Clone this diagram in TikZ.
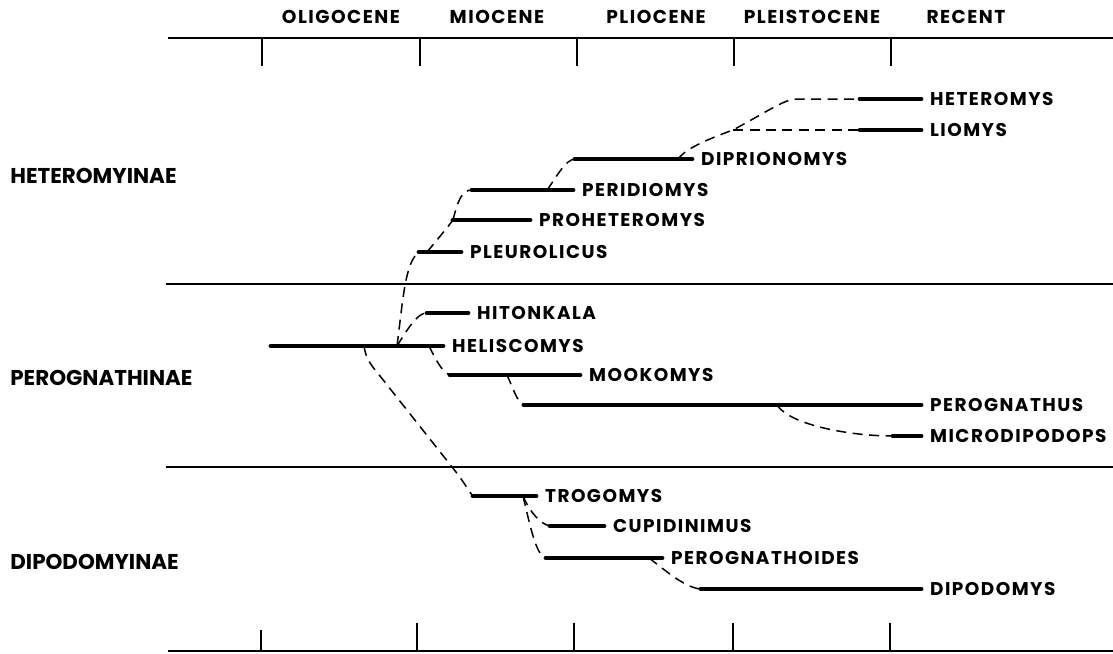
\documentclass[tikz,border=0pt]{standalone}
\usepackage{fontspec}
\setmainfont{Poppins}[LetterSpace=8]

\begin{document}
\begin{tikzpicture}[x=0.02cm, y=-0.02cm,
  epoch/.style={inner sep=0pt, font=\bfseries\fontsize{10.6}{12}\selectfont},
  subfam/.style={anchor=west, inner sep=0pt, font=\bfseries\fontsize{12.2}{14}\selectfont\addfontfeature{LetterSpace=0}},
  taxon/.style={anchor=west, inner xsep=5pt, inner ysep=0pt, font=\bfseries\fontsize{10.5}{12}\selectfont},
  rule/.style={line width=0.9pt},
  bar/.style={line width=2.8pt, line cap=round},
  link/.style={line width=0.85pt, dash pattern=on 0.2cm off 0.13cm}]

  \useasboundingbox (0,0) rectangle (1113,653);

  % time scale at the top
  \draw[rule] (168,38) -- (1113,38);
  \foreach \x in {262,420,577,734,891}
    \draw[rule] (\x,38) -- (\x,66);
  \node[epoch] (oligocene)   at (341,17) {OLIGOCENE};
  \node[epoch] (miocene)     at (497,17) {MIOCENE};
  \node[epoch] (pliocene)    at (656,17) {PLIOCENE};
  \node[epoch] (pleistocene) at (812,17) {PLEISTOCENE};
  \node[epoch] (recent)      at (966,17) {RECENT};

  % time scale at the bottom
  \draw[rule] (168,651) -- (1113,651);
  \draw[rule] (261,651) -- (261,630);
  \foreach \x in {417,574,733,890}
    \draw[rule] (\x,651) -- (\x,623);

  % subfamily bands
  \draw[rule] (166,284) -- (1113,284);
  \draw[rule] (166,467) -- (1113,467);
  \node[subfam] (heteromyinae)  at (10,176) {HETEROMYINAE};
  \node[subfam] (perognathinae) at (10,378) {PEROGNATHINAE};
  \node[subfam] (dipodomyinae)  at (10,562) {DIPODOMYINAE};

  % genera: start of each range
  \coordinate (s-heteromys)      at (860,99);
  \coordinate (s-liomys)         at (860,130);
  \coordinate (s-diprionomys)    at (575,159);
  \coordinate (s-peridiomys)     at (472,190);
  \coordinate (s-proheteromys)   at (453,220);
  \coordinate (s-pleurolicus)    at (419,252);
  \coordinate (s-hitonkala)      at (427,313);
  \coordinate (s-heliscomys)     at (271,346);
  \coordinate (s-mookomys)       at (450,375);
  \coordinate (s-perognathus)    at (524,405);
  \coordinate (s-microdipodops)  at (893,436);
  \coordinate (s-trogomys)       at (473,496);
  \coordinate (s-cupidinimus)    at (550,526);
  \coordinate (s-perognathoides) at (546,558);
  \coordinate (s-dipodomys)      at (701,589);

  \node[taxon] (heteromys)      at (921,99)  {HETEROMYS};
  \node[taxon] (liomys)         at (921,130) {LIOMYS};
  \node[taxon] (diprionomys)    at (692,159) {DIPRIONOMYS};
  \node[taxon] (peridiomys)     at (573,190) {PERIDIOMYS};
  \node[taxon] (proheteromys)   at (530,220) {PROHETEROMYS};
  \node[taxon] (pleurolicus)    at (461,252) {PLEUROLICUS};
  \node[taxon] (hitonkala)      at (468,313) {HITONKALA};
  \node[taxon] (heliscomys)     at (443,346) {HELISCOMYS};
  \node[taxon] (mookomys)       at (580,375) {MOOKOMYS};
  \node[taxon] (perognathus)    at (921,405) {PEROGNATHUS};
  \node[taxon] (microdipodops)  at (921,436) {MICRODIPODOPS};
  \node[taxon] (trogomys)       at (536,496) {TROGOMYS};
  \node[taxon] (cupidinimus)    at (604,526) {CUPIDINIMUS};
  \node[taxon] (perognathoides) at (662,558) {PEROGNATHOIDES};
  \node[taxon] (dipodomys)      at (921,589) {DIPODOMYS};

  \foreach \g in {heteromys,liomys,diprionomys,peridiomys,proheteromys,
      pleurolicus,hitonkala,heliscomys,mookomys,perognathus,microdipodops,
      trogomys,cupidinimus,perognathoides,dipodomys}
    \draw[bar] (s-\g) -- (\g.west);

  % branch points
  \coordinate (heli-a) at (364,346);
  \coordinate (heli-b) at (397,346);
  \coordinate (heli-c) at (429,346);
  \coordinate (pleu-a) at (427,252);
  \coordinate (peri-a) at (547,190);
  \coordinate (dipr-a) at (678,159);
  \coordinate (hete-a) at (733,130);
  \coordinate (hete-b) at (797,99);
  \coordinate (mook-a) at (507,375);
  \coordinate (pero-a) at (777,405);
  \coordinate (trog-a) at (523,496);
  \coordinate (pnoi-a) at (649,558);

  % heteromyine line
  \draw[link] (heli-b) .. controls (403,300) and (405,262) .. (s-pleurolicus);
  \draw[link] (pleu-a) .. controls (437,240) and (447,228) .. (s-proheteromys);
  \draw[link] (s-proheteromys) .. controls (458,200) and (462,190) .. (s-peridiomys);
  \draw[link] (peri-a) .. controls (558,175) and (565,160) .. (s-diprionomys);
  \draw[link] (dipr-a) .. controls (685,150) and (700,142) .. (hete-a)
    .. controls (770,110) and (785,99) .. (hete-b) -- (s-heteromys);
  \draw[link] (hete-a) -- (s-liomys);

  % perognathine line
  \draw[link] (heli-b) .. controls (410,325) and (418,313) .. (s-hitonkala);
  \draw[link] (heli-c) .. controls (436,360) and (442,372) .. (s-mookomys);
  \draw[link] (mook-a) .. controls (513,388) and (518,404) .. (s-perognathus);
  \draw[link] (pero-a) .. controls (790,425) and (850,436) .. (s-microdipodops);

  % dipodomyine line
  \draw[link] (heli-a) .. controls (366,360) and (372,366) .. (380,376) -- (456,472)
    .. controls (466,485) and (469,492) .. (s-trogomys);
  \draw[link] (trog-a) .. controls (530,512) and (540,524) .. (s-cupidinimus);
  \draw[link] (trog-a) .. controls (530,525) and (536,556) .. (s-perognathoides);
  \draw[link] (pnoi-a) .. controls (665,570) and (685,588) .. (s-dipodomys);

\end{tikzpicture}
\end{document}
